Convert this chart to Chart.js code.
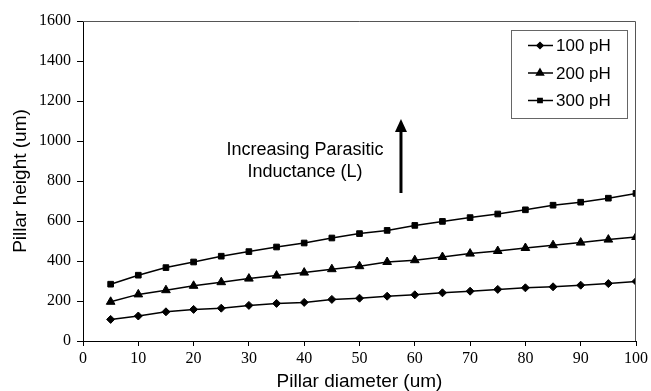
<!DOCTYPE html>
<html>
<head>
<meta charset="utf-8">
<script src="https://cdn.jsdelivr.net/npm/chart.js@4"></script>
<style>
  body { margin: 0; background: #fff; }
  #wrap { width: 651px; height: 391px; }
</style>
</head>
<body>
<div id="wrap"><canvas id="myChart" width="651" height="391"></canvas></div>
<script>
const diameters = [5, 10, 15, 20, 25, 30, 35, 40, 45, 50, 55, 60, 65, 70, 75, 80, 85, 90, 95, 100]
const h100 = [108, 125, 146, 158, 164, 178, 188, 193, 208, 214, 224, 231, 241, 249, 258, 266, 271, 279, 287, 298]
const h200 = [196, 233, 254, 276, 294, 312, 327, 342, 359, 374, 395, 404, 420, 437, 450, 465, 479, 492, 507, 520]
const h300 = [284, 329, 367, 395, 424, 447, 470, 490, 515, 537, 553, 578, 598, 617, 635, 656, 679, 694, 714, 738]
const seriesLabels = ["100 pH", "200 pH", "300 pH"]
const markers = ["rectRot", "triangle", "rect"]
const markerSize = [4, 5, 4]
const noteLines = ["Increasing Parasitic", "Inductance (L)"]

const toPoints = (ys) => ys.map((y, i) => ({x: diameters[i], y: y}))

// frame, legend box and the arrow note
const extras = {
    id: "extras",
    afterDraw(chart) {
        const ctx = chart.ctx
        const a = chart.chartArea
        const xs = chart.scales.x, ys = chart.scales.y
        ctx.save()
        // top + right border
        ctx.strokeStyle = "#555"
        ctx.lineWidth = 1
        ctx.beginPath()
        ctx.moveTo(a.left, a.top + 0.5)
        ctx.lineTo(a.right - 0.5, a.top + 0.5)
        ctx.lineTo(a.right - 0.5, a.bottom)
        ctx.stroke()

        // legend
        ctx.strokeStyle = "#666"
        ctx.strokeRect(511.5, 30.5, 116, 88)
        ctx.font = "17px 'Liberation Sans', Arial, sans-serif"
        ctx.textBaseline = "middle"
        ctx.fillStyle = "#000"
        chart.data.datasets.forEach((ds, i) => {
            const y = 45.5 + i * 27.5
            ctx.strokeStyle = "#000"
            ctx.lineWidth = 1.5
            ctx.beginPath()
            ctx.moveTo(528, y)
            ctx.lineTo(553, y)
            ctx.stroke()
            Chart.helpers.drawPoint(ctx, {pointStyle: ds.pointStyle, radius: ds.pointRadius - 1, rotation: 0, borderWidth: 1}, 540, y)
            ctx.fillStyle = "#000"
            ctx.fill()
            ctx.fillText(ds.label, 556, y + 1)
        })

        // annotation
        ctx.font = "18px 'Liberation Sans', Arial, sans-serif"
        ctx.textAlign = "center"
        ctx.fillStyle = "#000"
        ctx.fillText(noteLines[0], 305, 150)
        ctx.fillText(noteLines[1], 305, 172)
        const ax = xs.getPixelForValue(57.5)
        const yTop = ys.getPixelForValue(1110)
        const yBot = ys.getPixelForValue(740)
        ctx.strokeStyle = "#000"
        ctx.lineWidth = 3
        ctx.beginPath()
        ctx.moveTo(ax, yBot)
        ctx.lineTo(ax, yTop + 8)
        ctx.stroke()
        ctx.beginPath()
        ctx.moveTo(ax, yTop)
        ctx.lineTo(ax - 6, yTop + 13)
        ctx.lineTo(ax + 6, yTop + 13)
        ctx.closePath()
        ctx.fill()
        ctx.restore()
    }
}

const tickFont = {family: "'Liberation Serif', 'Times New Roman', serif", size: 16}
const titleFont = {family: "'Liberation Sans', Arial, sans-serif", size: 19, lineHeight: 1}

new Chart("myChart", {
    type: "line",
    data: {
        datasets: [h100, h200, h300].map((vals, i) => ({
            label: seriesLabels[i],
            data: toPoints(vals),
            borderColor: "#000",
            backgroundColor: "#000",
            borderWidth: 1.5,
            pointStyle: markers[i],
            pointRadius: markerSize[i],
            pointBorderWidth: 1,
            tension: 0,
            fill: false
        }))
    },
    options: {
        responsive: false,
        animation: false,
        layout: {padding: {top: 21, right: 14, left: 0, bottom: 0}},
        plugins: {
            legend: {display: false},
            tooltip: {enabled: false}
        },
        scales: {
            x: {
                type: "linear",
                min: 0,
                max: 100,
                ticks: {stepSize: 10, color: "#000", font: tickFont, padding: 3, maxRotation: 0, callback: (v) => String(v)},
                grid: {drawOnChartArea: false, drawTicks: true, tickLength: 5, color: "#000"},
                border: {color: "#000", width: 1},
                title: {display: true, text: "Pillar diameter (um)", color: "#000", font: titleFont, padding: {top: 0, bottom: 0}},
                afterFit(scale) { scale.height = 50 }
            },
            y: {
                min: 0,
                max: 1600,
                ticks: {stepSize: 200, color: "#000", font: tickFont, padding: 6, callback: (v) => String(v)},
                grid: {drawOnChartArea: false, drawTicks: true, tickLength: 6, color: "#000"},
                border: {color: "#000", width: 1},
                title: {display: true, text: "Pillar height (um)", color: "#000", font: titleFont, padding: {top: 11, bottom: 0}},
                afterFit(scale) { scale.width = 83 }
            }
        }
    },
    plugins: [extras]
})
</script>
</body>
</html>
